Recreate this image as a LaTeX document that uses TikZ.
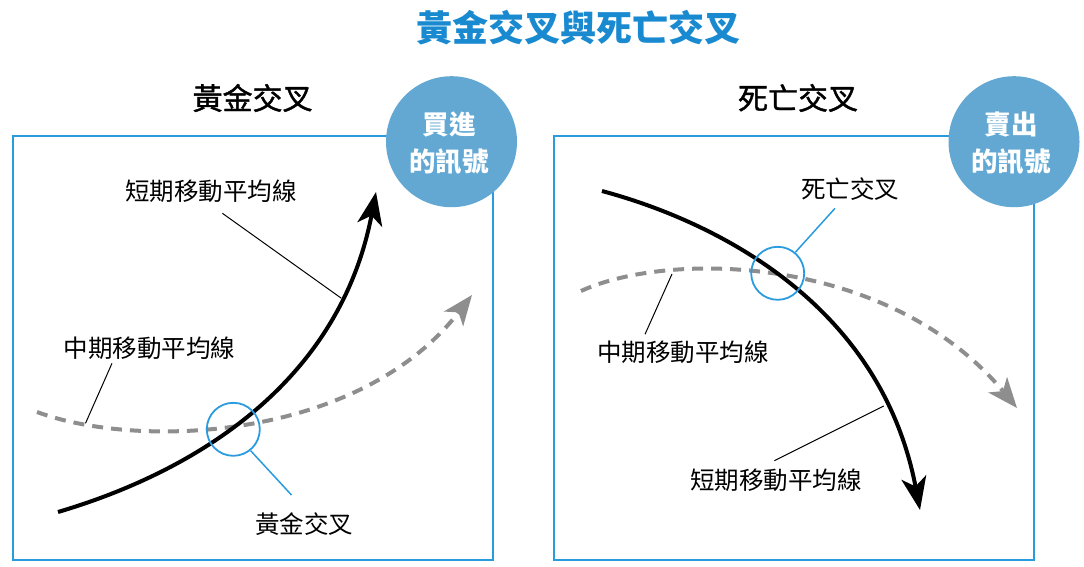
\documentclass[tikz,border=0pt]{standalone}
\usepackage{fontspec}
\newfontfamily\cjk{Noto Sans CJK TC}
\newfontfamily\cjkmed[FakeBold=1.3]{Noto Sans CJK TC}
\usetikzlibrary{arrows.meta}
\definecolor{boxblue}{HTML}{2A9BDF}
\definecolor{circblue}{HTML}{62A8D3}
\definecolor{titleblue}{HTML}{1A8AD0}
\definecolor{dashgray}{HTML}{8E8E8E}
\begin{document}
\begin{tikzpicture}[x=1pt,y=-1pt,
  frame/.style={draw=boxblue,line width=1.8pt},
  signal/.style={circle,fill=circblue,minimum size=131pt,inner sep=0pt},
  sigtext/.style={text=white,font=\cjk\bfseries\fontsize{26.5}{37}\selectfont,align=center,inner sep=0pt},
  head/.style={font=\cjkmed\fontsize{30}{30}\selectfont,text=black,inner sep=0pt},
  lbl/.style={font=\cjk\fontsize{24.5}{24.5}\selectfont,inner sep=0pt},
  shortma/.style={line width=4pt,-{Stealth[length=33pt,width=25pt,inset=9pt]}},
  midma/.style={line width=4pt,dashgray,dash pattern=on 11pt off 8pt,-{Stealth[length=30pt,width=24pt,inset=8pt]}},
  ring/.style={circle,draw=boxblue,line width=1.8pt,minimum size=53pt,inner sep=0pt},
  leader/.style={line width=1pt},
  bleader/.style={draw=boxblue,line width=1.5pt}]
\useasboundingbox (0,0) rectangle (1084,566);

% main title
\node[font=\cjk\bfseries\fontsize{36}{36}\selectfont,text=titleblue,inner sep=0pt] (title) at (578.5,28) {黃金交叉與死亡交叉};

% ---------- left panel ----------
\node[head] (headL) at (252.6,98) {黃金交叉};
\draw[frame] (13.3,136) rectangle (493.3,560);
\node[signal] (sigL) at (451.5,141.7) {};
\node[sigtext] (sigLt) at (449,143.5) {買進\\的訊號};

\draw[midma] (37,412) .. controls (140,450) and (360,440) .. (472,295);
\draw[shortma] (58,512) .. controls (200,470) and (340,380) .. (376,192);

\node[ring] (ringL) at (233.3,429.3) {};
\node[lbl] (lblSL) at (211,191.5) {短期移動平均線};
\node[lbl] (lblML) at (149.3,348.3) {中期移動平均線};
\node[lbl] (lblGL) at (304,524) {黃金交叉};

\coordinate (sL1) at (222.4,213.3);
\coordinate (sL2) at (341.4,298.3);
\coordinate (mL1) at (112,363.3);
\coordinate (mL2) at (85.5,423.3);
\coordinate (gL2) at (291.5,495);
\draw[leader] (sL1) -- (sL2);
\draw[leader] (mL1) -- (mL2);
\draw[bleader] (ringL.-51) -- (gL2);

% ---------- right panel ----------
\node[head] (headR) at (798,98) {死亡交叉};
\draw[frame] (554,136) rectangle (1034,560);
\node[signal] (sigR) at (1014,141.7) {};
\node[sigtext] (sigRt) at (1011,143.5) {賣出\\的訊號};

\draw[midma] (581,291) .. controls (670,250) and (890,255) .. (1017,408);
\draw[shortma] (602,191) .. controls (710,220) and (880,300) .. (920,510);

\node[ring] (ringR) at (777.7,273.3) {};
\node[lbl] (lblDR) at (850,189.5) {死亡交叉};
\node[lbl] (lblMR) at (683,352.7) {中期移動平均線};
\node[lbl] (lblSR) at (776,480) {短期移動平均線};

\coordinate (dR2) at (835,208.3);
\coordinate (mR1) at (645,334.3);
\coordinate (mR2) at (672,274);
\coordinate (sR1) at (774.4,460.7);
\coordinate (sR2) at (883.8,406);
\draw[bleader] (ringR.50) -- (dR2);
\draw[leader] (mR1) -- (mR2);
\draw[leader] (sR1) -- (sR2);
\end{tikzpicture}
\end{document}
